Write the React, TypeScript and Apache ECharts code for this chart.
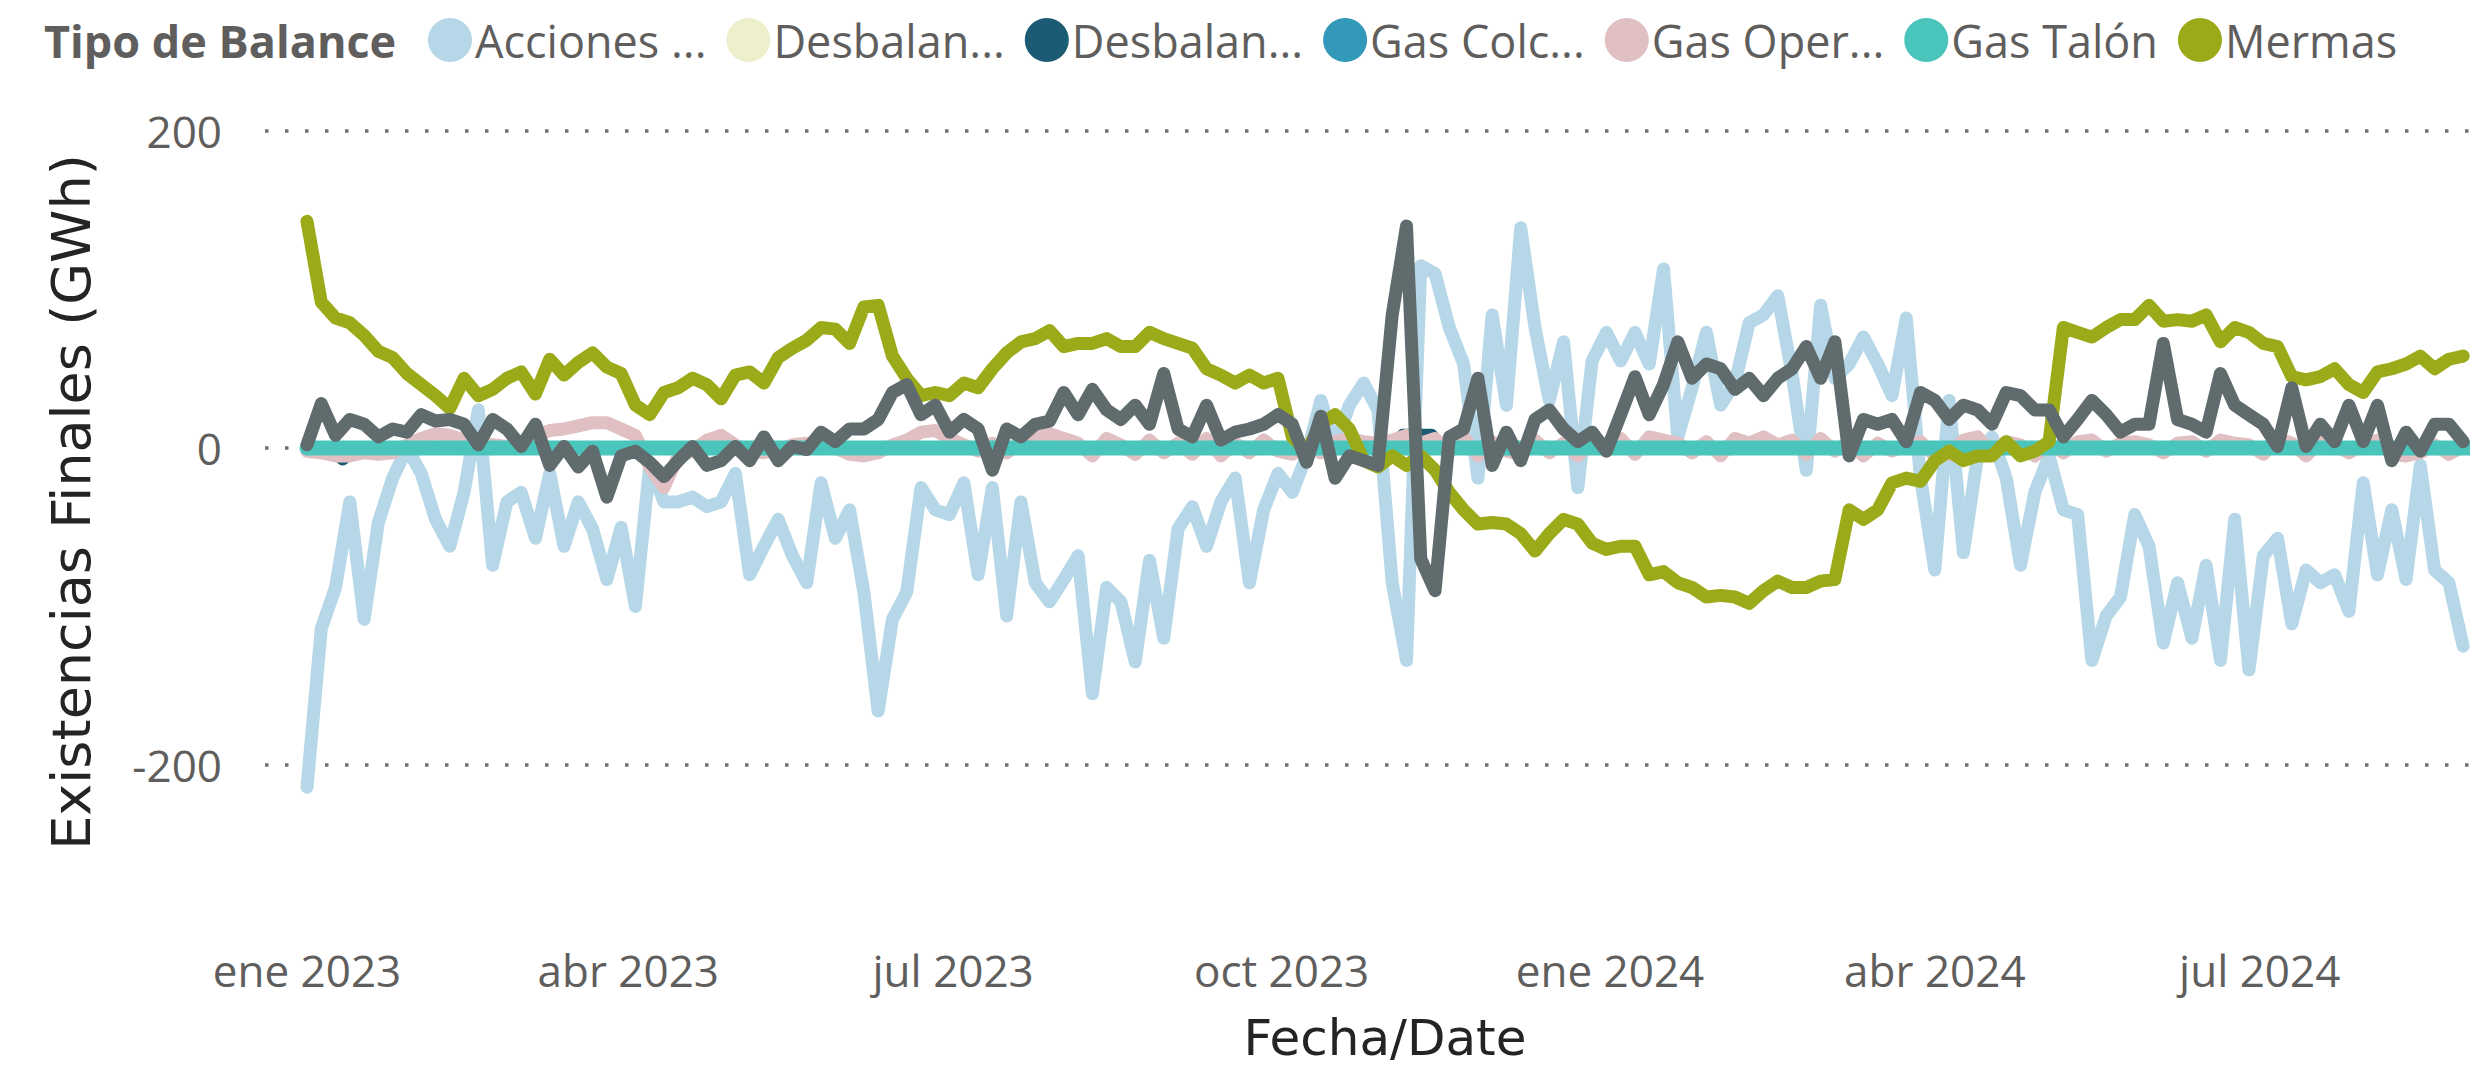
import React, { useEffect, useRef } from "react";
import * as echarts from "echarts";

const DAY_MS = 86400000;
const FIRST_DATE = "2023-01-01";
const STEP_DAYS = 4;

const seriesNames = [
  "Acciones de Balance",
  "Desbalance Comercial",
  "Desbalance Operativo",
  "Gas Colchón",
  "Gas Operativo",
  "Gas Talón",
  "Mermas",
];
const legendLabels = ["Acciones ...", "Desbalan...", "Desbalan...", "Gas Colc...", "Gas Oper...", "Gas Talón", "Mermas"];
const seriesColors = ["#B6D7E7", "#EDF0CB", "#1B5B74", "#3399BB", "#E0C0C3", "#4AC5BB", "#9BAA18"];
const totalName = "Total";
const totalColor = "#5F6B6D";

// 4-day samples from 2023-01-01
const acciones = [
  -214, -114, -88, -34, -108, -47, -19, 0, -16, -45, -62, -28, 24, -74, -34, -28, -57, -16, -62, -34,
  -51, -83, -50, -100, -11, -34, -34, -31, -37, -34, -16, -80, -62, -45, -68, -85, -22, -57,
  -39, -91, -166, -108, -91, -25, -39, -42, -22, -80, -25, -106, -34, -85, -97, -83, -68, -155, -88, -97,
  -135, -71, -120, -51, -37, -62, -34, -19, -85, -39, -16, -28, -5, 30, 1, 27, 41, 24,
  -85, -134, 115, 110, 76, 53, -19, 84, 27, 139, 76, 30, 67, -25, 55, 73, 55, 73, 53, 113,
  7, 38, 73, 27, 41, 79, 84, 96, 47, -14, 90, 44, 53, 70, 53, 33, 82, -19, -77,
  30, -66, -5, 7, -19, -74, -28, -5, -39, -42, -134, -106, -94, -42, -62, -123, -85, -120, -74, -134,
  -45, -140, -68, -57, -111, -77, -85, -80, -103, -22, -80, -39, -83, -11, -77, -85, -125,
];
const gasOperativo = [
  -2, -3, -5, -5, -3, -4, -3, 2, 6, 9, 8, 5, 3, 2, 1, 3, 8, 11, 12, 14,
  16, 16, 12, 8, -12, -25, -5, -2, 5, 8, 2, -2, -3, -1, 2, 3, 1, 0,
  -4, -5, -3, 2, 5, 10, 11, 6, 2, -2, 3, -3, 4, 8, 9, 6, 3, -5, 6, 2,
  -4, 5, -3, 3, -4, 6, -5, 3, -3, 5, -2, -4, 2, -3, 4, 6, 4, 3,
  5, 8, 3, 6, -3, 7, -5, 4, -2, -4, 5, -3, 3, -5, 4, -2, 6, -4, 7, 5,
  3, -3, 4, -5, 6, 3, 7, 2, 5, -4, 6, -2, 4, -5, 3, -2, 2, 4, -5,
  -4, 5, 7, -3, 4, 2, -5, 3, -3, 4, 5, -2, 3, 4, 2, -3, 3, 4, -2, 5,
  3, 2, -4, 6, 3, -5, 4, 2, -3, 2, 5, -4, -5, -3, 2, -4, 1,
];
const mermas = [
  143, 92, 82, 79, 71, 61, 57, 47, 40, 33, 25, 44, 33, 37, 44, 48, 34, 56, 46, 54,
  60, 51, 47, 27, 21, 35, 38, 44, 40, 31, 46, 48, 41, 57, 63, 68, 76, 75,
  66, 89, 90, 58, 44, 33, 35, 33, 41, 38, 50, 60, 67, 69, 74, 64, 66, 66, 69, 64,
  64, 73, 69, 66, 63, 50, 46, 41, 46, 41, 44, 7, -2, 15, 21, 12, -8, -12,
  -5, -11, -5, -14, -28, -39, -48, -47, -48, -54, -65, -54, -45, -48, -60, -64, -62, -62, -80, -78,
  -85, -88, -94, -93, -94, -98, -90, -84, -88, -88, -84, -83, -39, -45, -39, -22, -19, -21, -8,
  -2, -8, -5, -5, 4, -5, -2, 4, 76, 73, 70, 76, 81, 81, 90, 80, 81, 80, 84, 67,
  76, 73, 66, 64, 45, 43, 45, 50, 40, 35, 48, 50, 53, 58, 50, 56, 58,
];
const total = [
  2, 28, 8, 18, 15, 7, 12, 10, 21, 17, 18, 15, 2, 18, 12, 1, 15, -11, 1, -12,
  -2, -31, -5, -2, -9, -18, -8, 1, -11, -8, 1, -8, 7, -8, 1, -1, 10, 4,
  12, 12, 18, 35, 40, 21, 27, 10, 18, 12, -14, 12, 7, 15, 17, 35, 21, 37, 24, 18,
  27, 15, 47, 12, 7, 27, 5, 10, 12, 15, 21, 15, -9, 20, -19, -5, -8, -11,
  84, 140, -70, -90, 7, 12, 44, -11, 10, -8, 18, 24, 12, 4, 10, -2, 21, 45, 21, 40,
  67, 44, 53, 50, 37, 44, 33, 44, 50, 64, 44, 67, -5, 18, 15, 18, 4, 35, 30,
  18, 27, 24, 15, 35, 33, 24, 24, 7, 18, 30, 21, 10, 15, 15, 66, 18, 15, 10, 47,
  27, 21, 15, 1, 38, 1, 15, 4, 27, 4, 27, -8, 10, -2, 15, 15, 4,
];

const flatDates = ["2023-01-01", "2024-08-29"];
const desbalanceComercial = [0, 0];
const gasColchon = [0, 0];
const gasTalon = [0, 0];
const desbalanceOpDates = [
  "2023-01-01", "2023-01-08", "2023-01-11", "2023-01-14",
  "2023-11-01", "2023-11-04", "2023-11-12", "2023-11-15", "2024-08-29",
];
const desbalanceOperativo = [0, 0, -7, 0, 0, 8, 8, 0, 0];

const xTickDates = ["2023-01-01", "2023-04-01", "2023-07-01", "2023-10-01", "2024-01-01", "2024-04-01", "2024-07-01"];
const xTickLabels = ["ene 2023", "abr 2023", "jul 2023", "oct 2023", "ene 2024", "abr 2024", "jul 2024"];
const yTickValues = [-200, 0, 200];
const yTickLabels = ["-200", "0", "200"];
const X_MIN = "2022-12-20T05:40:00Z";
const X_MAX = "2024-08-28T22:00:00Z";

const ts = (s: string) => Date.parse(s.length === 10 ? s + "T00:00:00Z" : s);

function stepped(values: number[]) {
  const t0 = ts(FIRST_DATE);
  return values.map((v, i) => [t0 + i * STEP_DAYS * DAY_MS, v]);
}
function dated(dates: string[], values: number[]) {
  return dates.map((d, i) => [ts(d), values[i]]);
}

const LABEL_FONT = "'Open Sans', 'Noto Sans', sans-serif";
const TITLE_FONT = "'DejaVu Sans', sans-serif";

export default function App() {
  const ref = useRef<HTMLDivElement>(null);
  useEffect(() => {
    if (!ref.current) return;
    const chart = echarts.init(ref.current, undefined, { renderer: "svg" });
    const seriesData = [
      stepped(acciones),
      dated(flatDates, desbalanceComercial),
      dated(desbalanceOpDates, desbalanceOperativo),
      dated(flatDates, gasColchon),
      stepped(gasOperativo),
      dated(flatDates, gasTalon),
      stepped(mermas),
    ];
    const widths = [13, 13, 13, 13, 13, 15, 13];
    const lineBase = (name: string, color: string, data: any[], width: number) => ({
      name,
      type: "line",
      data,
      color,
      showSymbol: false,
      symbol: "none",
      lineStyle: { width, color, cap: "round", join: "round" },
      emphasis: { disabled: true },
    });
    const series: any[] = seriesNames.map((n, i) => lineBase(n, seriesColors[i], seriesData[i], widths[i]));
    series.push(lineBase(totalName, totalColor, stepped(total), 13));
    const xTickTimes = xTickDates.map(ts);

    chart.setOption({
      animation: false,
      title: {
        text: "Tipo de Balance",
        left: 44,
        top: 13,
        padding: 0,
        textStyle: { fontFamily: LABEL_FONT, fontSize: 45, fontWeight: "bold", color: "#605E5C", lineHeight: 54 },
      },
      legend: {
        data: seriesNames,
        left: 428,
        top: 13,
        padding: 0,
        icon: "circle",
        itemWidth: 44,
        itemHeight: 44,
        itemGap: 20,
        formatter: (name: string) => legendLabels[seriesNames.indexOf(name)],
        textStyle: { fontFamily: LABEL_FONT, fontSize: 45, color: "#605E5C", lineHeight: 54, padding: [0, 0, 0, -2] },
      },
      grid: { left: 265, right: 0, top: 131, bottom: 146.5, containLabel: false },
      xAxis: {
        type: "value",
        min: ts(X_MIN),
        max: ts(X_MAX),
        axisLine: { show: false },
        axisTick: { show: false },
        splitLine: { show: false },
        axisLabel: {
          customValues: xTickTimes,
          formatter: (v: number) => {
            const i = xTickTimes.indexOf(v);
            return i >= 0 ? xTickLabels[i] : "";
          },
          fontFamily: LABEL_FONT,
          fontSize: 44,
          color: "#605E5C",
          margin: 21,
          lineHeight: 50,
        },
      },
      yAxis: {
        type: "value",
        min: -300,
        max: 200,
        interval: 100,
        axisLine: { show: false },
        axisTick: { show: false },
        axisLabel: {
          formatter: (v: number) => {
            const i = yTickValues.indexOf(v);
            return i >= 0 ? yTickLabels[i] : "";
          },
          fontFamily: LABEL_FONT,
          fontSize: 44,
          color: "#605E5C",
          margin: 43,
        },
        splitLine: {
          show: true,
          lineStyle: { color: ["rgba(0,0,0,0)", "#6E6E6E"], width: 3.5, type: [3.5, 16.5] },
        },
      },
      graphic: [
        {
          type: "text",
          x: 71,
          y: 502,
          rotation: Math.PI / 2,
          style: {
            text: "Existencias Finales (GWh)",
            font: `54px ${TITLE_FONT}`,
            fill: "#252423",
            textAlign: "center",
            textVerticalAlign: "middle",
          },
        },
        {
          type: "text",
          x: 1385,
          y: 1038,
          style: {
            text: "Fecha/Date",
            font: `50px ${TITLE_FONT}`,
            fill: "#252423",
            textAlign: "center",
            textVerticalAlign: "middle",
          },
        },
      ],
      series,
    });
    return () => chart.dispose();
  }, []);
  return <div ref={ref} style={{ position: "fixed", left: 0, top: 0, width: 2470, height: 1070, background: "#fff" }} />;
}
